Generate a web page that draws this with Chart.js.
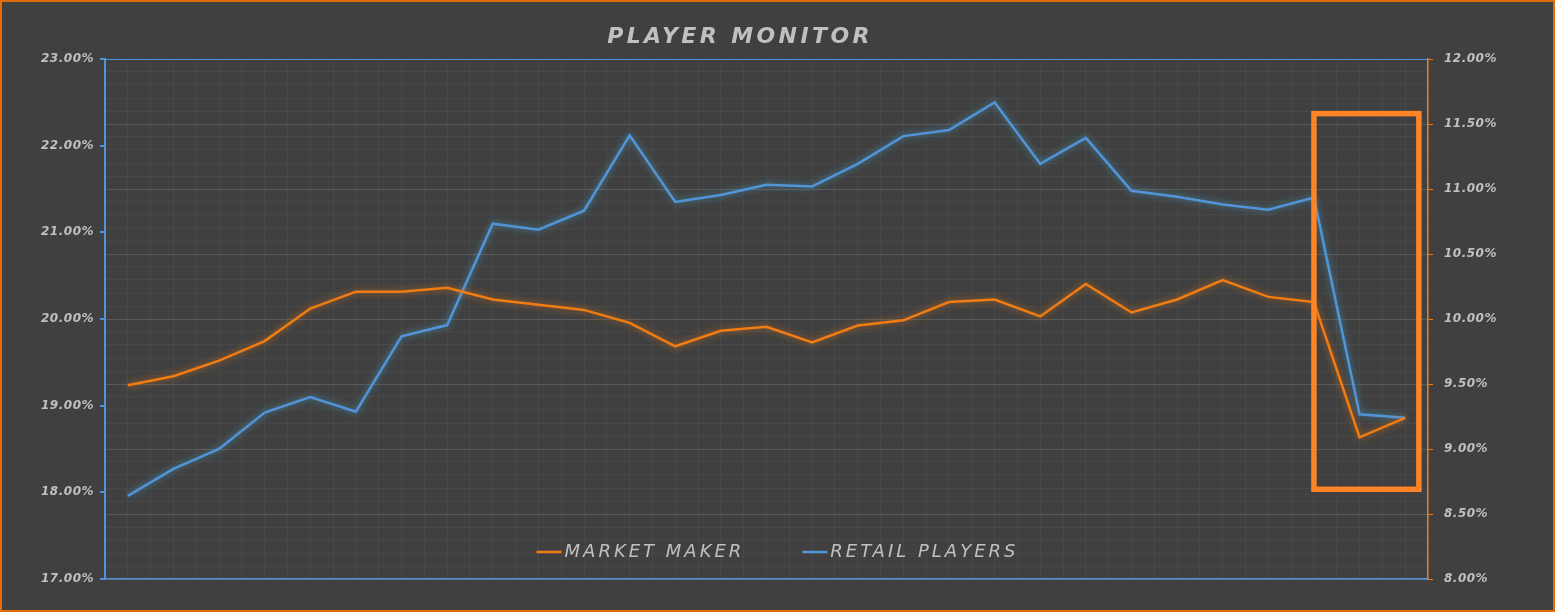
<!DOCTYPE html>
<html>
<head>
<meta charset="utf-8">
<title>Player Monitor</title>
<script src="https://cdn.jsdelivr.net/npm/chart.js@4.4.1/dist/chart.umd.min.js"></script>
<style>
    html, body { margin: 0; padding: 0; background: #404040; }
    #wrap { width: 1555px; height: 612px; position: relative; }
</style>
</head>
<body>
<div id="wrap"><canvas id="playerChart" width="1555" height="612"></canvas></div>
<script>
// periods (not labelled on the chart)
const periods = ['1','2','3','4','5','6','7','8','9','10','11','12','13','14','15',
                 '16','17','18','19','20','21','22','23','24','25','26','27','28','29'];

// Market Maker, right axis (%)
const marketMaker = [9.49, 9.56, 9.68, 9.83, 10.08, 10.21, 10.21, 10.24, 10.15, 10.11,
                     10.07, 9.97, 9.79, 9.91, 9.94, 9.82, 9.95, 9.99, 10.13, 10.15,
                     10.02, 10.27, 10.05, 10.15, 10.30, 10.17, 10.13, 9.09, 9.24];

// Retail Players, left axis (%)
const retailPlayers = [17.96, 18.27, 18.50, 18.92, 19.10, 18.93, 19.80, 19.93, 21.10, 21.03,
                       21.25, 22.12, 21.35, 21.43, 21.55, 21.53, 21.79, 22.11, 22.18, 22.50,
                       21.79, 22.09, 21.48, 21.41, 21.32, 21.26, 21.40, 18.90, 18.86];

const leftTicks = { min: 17, max: 23, step: 1 };
const rightTicks = { min: 8, max: 12, step: 0.5, minor: 0.1 };

// highlighted range: category index span and right-axis value span
const highlight = { from: 26, to: 28.3, top: 11.58, bottom: 8.69 };

const BLUE = '#5294d8';
const ORANGE = '#f07c12';
const TEXT = '#c0c0c0';
const MINOR = '#484848';
const MAJOR = '#5a5a5a';

function isMajor(v) {
    const q = (v - rightTicks.min) / rightTicks.step;
    return Math.abs(q - Math.round(q)) < 1e-6;
}

const decorPlugin = {
    id: 'decor',
    beforeDraw(chart) {
        chart.ctx.letterSpacing = '0.5px';
    },
    beforeDatasetDraw(chart, args) {
        const ctx = chart.ctx;
        const ds = chart.data.datasets[args.index];
        ctx.save();
        ctx.shadowColor = ds.glow;
        ctx.shadowBlur = 7;
    },
    afterDatasetDraw(chart) {
        chart.ctx.restore();
    },
    afterDatasetsDraw(chart) {
        const ctx = chart.ctx;
        const x = chart.scales.x;
        const y2 = chart.scales.y2;
        const x0 = x.getPixelForValue(highlight.from);
        const x1 = x.getPixelForValue(highlight.to);
        const yt = y2.getPixelForValue(highlight.top);
        const yb = y2.getPixelForValue(highlight.bottom);
        ctx.save();
        ctx.strokeStyle = '#ff8426';
        ctx.lineWidth = 5.5;
        ctx.strokeRect(x0, yt, x1 - x0, yb - yt);
        ctx.restore();
    },
    afterDraw(chart) {
        const ctx = chart.ctx;
        ctx.save();

        // title
        ctx.font = 'bold italic 22px "DejaVu Sans"';
        ctx.letterSpacing = '3.4px';
        ctx.fillStyle = TEXT;
        ctx.textAlign = 'center';
        ctx.textBaseline = 'middle';
        ctx.fillText('PLAYER MONITOR', 740, 37);

        // legend, inside the plot near the bottom
        ctx.font = 'italic 18px "DejaVu Sans"';
        ctx.letterSpacing = '3px';
        ctx.textAlign = 'left';
        const lineLen = 25, gapText = 3, gapItem = 58;
        const items = chart.data.datasets.map(ds => ({
            label: ds.label.toUpperCase(),
            color: ds.borderColor,
            w: lineLen + gapText + ctx.measureText(ds.label.toUpperCase()).width
        }));
        const total = items.reduce((s, it) => s + it.w, 0) + gapItem * (items.length - 1);
        let lx = chart.width / 2 - total / 2;
        const ly = chart.chartArea.bottom - 27;
        items.forEach(it => {
            ctx.strokeStyle = it.color;
            ctx.lineWidth = 2.5;
            ctx.beginPath();
            ctx.moveTo(lx, ly);
            ctx.lineTo(lx + lineLen, ly);
            ctx.stroke();
            ctx.fillStyle = TEXT;
            ctx.fillText(it.label, lx + lineLen + gapText, ly);
            lx += it.w + gapItem;
        });

        // outer frame
        ctx.letterSpacing = '0px';
        ctx.strokeStyle = '#e36c0a';
        ctx.lineWidth = 2;
        ctx.strokeRect(1, 1, chart.width - 2, chart.height - 2);
        ctx.restore();
    }
};

document.addEventListener('DOMContentLoaded', function() {
    const tickFont = { family: '"DejaVu Sans"', size: 12, style: 'italic', weight: 'bold' };

    const ctx = document.getElementById('playerChart').getContext('2d');
    new Chart(ctx, {
        type: 'line',
        data: {
            labels: periods,
            datasets: [{
                label: 'Market Maker',
                data: marketMaker,
                yAxisID: 'y2',
                borderColor: ORANGE,
                glow: 'rgba(240,124,18,0.7)',
                borderWidth: 2.5,
                pointRadius: 0,
                tension: 0
            }, {
                label: 'Retail Players',
                data: retailPlayers,
                yAxisID: 'y',
                borderColor: BLUE,
                glow: 'rgba(70,170,210,0.75)',
                borderWidth: 2.5,
                pointRadius: 0,
                tension: 0
            }]
        },
        options: {
            responsive: false,
            animation: false,
            devicePixelRatio: 1,
            layout: { padding: 0 },
            plugins: {
                legend: { display: false },
                title: { display: false },
                tooltip: { enabled: false }
            },
            scales: {
                x: {
                    type: 'category',
                    position: 'bottom',
                    offset: true,
                    grid: { color: MINOR, offset: true, drawTicks: false },
                    border: { color: BLUE, width: 1.5 },
                    ticks: { display: false },
                    afterFit(scale) { scale.height = 33; }
                },
                x2: {
                    type: 'category',
                    position: 'top',
                    offset: true,
                    grid: { color: MINOR, offset: false, drawTicks: false },
                    border: { color: BLUE, width: 1 },
                    ticks: { display: false },
                    afterFit(scale) { scale.height = 59; }
                },
                y: {
                    position: 'left',
                    min: leftTicks.min,
                    max: leftTicks.max,
                    grid: { drawOnChartArea: false, color: BLUE, tickColor: BLUE, tickLength: 5, lineWidth: 2 },
                    border: { color: BLUE, width: 2 },
                    ticks: {
                        stepSize: leftTicks.step,
                        color: TEXT,
                        font: tickFont,
                        padding: 6,
                        callback: v => v.toFixed(2) + '%'
                    },
                    afterFit(scale) { scale.width = 105; }
                },
                y2: {
                    position: 'right',
                    min: rightTicks.min,
                    max: rightTicks.max,
                    grid: {
                        color: c => isMajor(c.tick.value) ? MAJOR : MINOR,
                        tickColor: c => isMajor(c.tick.value) ? ORANGE : 'rgba(0,0,0,0)',
                        tickLength: 5,
                        lineWidth: 1
                    },
                    border: { color: ORANGE, width: 1.5 },
                    ticks: {
                        stepSize: rightTicks.minor,
                        autoSkip: false,
                        color: TEXT,
                        font: tickFont,
                        padding: 11,
                        callback: v => isMajor(v) ? v.toFixed(2) + '%' : ''
                    },
                    afterFit(scale) { scale.width = 127; }
                }
            }
        },
        plugins: [decorPlugin]
    });
});
</script>
</body>
</html>
